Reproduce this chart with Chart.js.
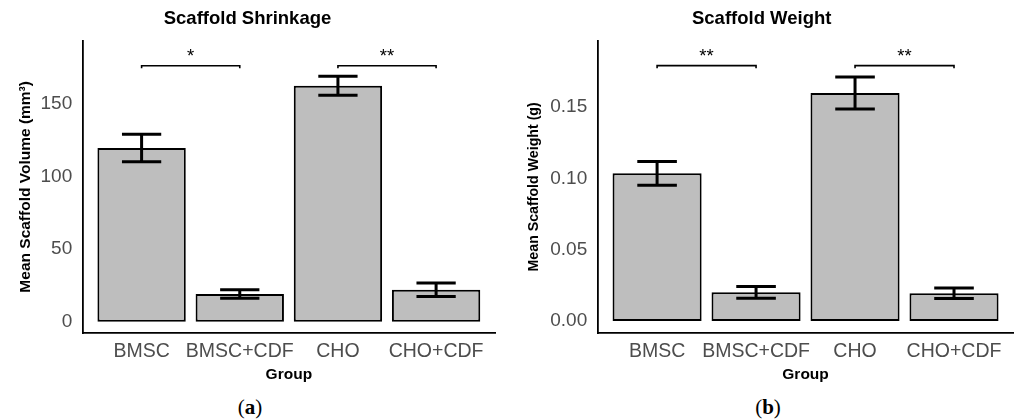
<!DOCTYPE html>
<html><head><meta charset="utf-8">
<script src="https://cdn.jsdelivr.net/npm/chart.js@4.4.1/dist/chart.umd.min.js"></script>
<style>
body{margin:0;background:#fff;width:1020px;height:419px;overflow:hidden;position:relative;font-family:'Liberation Sans',Arial,sans-serif}
.wrap{position:absolute;top:0;width:510px;height:390px}
.cap{position:absolute;top:395px;font-family:'Liberation Serif','Times New Roman',serif;font-size:21px;line-height:24px;color:#000;transform:translateX(-50%)}
</style></head><body>
<div class="wrap" style="left:0"><canvas id="cA" width="510" height="390"></canvas></div>
<div class="wrap" style="left:510px"><canvas id="cB" width="510" height="390"></canvas></div>
<div class="cap" style="left:250px">(<b>a</b>)</div>
<div class="cap" style="left:768px">(<b>b</b>)</div>
<script>
const groups = ['BMSC', 'BMSC+CDF', 'CHO', 'CHO+CDF'];
const volumeMean = [119.5, 19.1, 162.4, 22.0];
const volumeErr = [9.5, 2.9, 6.5, 4.6];
const weightMean = [0.1035, 0.0201, 0.1599, 0.0194];
const weightErr = [0.0083, 0.0041, 0.0112, 0.0037];
const volumeTicks = [0, 50, 100, 150];
const volumeTickLabels = ['0', '50', '100', '150'];
const weightTicks = [0, 0.05, 0.10, 0.15];
const weightTickLabels = ['0.00', '0.05', '0.10', '0.15'];
const volumeSig = [{from: 0, to: 1, y: 176.2, label: '*'}, {from: 2, to: 3, y: 176.2, label: '**'}];
const weightSig = [{from: 0, to: 1, y: 0.179, label: '**'}, {from: 2, to: 3, y: 0.179, label: '**'}];

const FONT = "'Liberation Sans', Arial, sans-serif";
Chart.defaults.font.family = FONT;

const annot = {
  id: 'annot',
  afterDatasetsDraw(chart, args, opts) {
    const {ctx, scales: {x, y}} = chart;
    ctx.save();
    ctx.strokeStyle = '#000';
    ctx.lineWidth = 3;
    opts.mean.forEach((m, i) => {
      const cx = x.getPixelForValue(i + 1);
      const hw = x.getPixelForValue(i + 1 + 0.2) - cx;
      const yt = y.getPixelForValue(m + opts.err[i]);
      const yb = y.getPixelForValue(m - opts.err[i]);
      ctx.beginPath();
      ctx.moveTo(cx, yt); ctx.lineTo(cx, yb);
      ctx.moveTo(cx - hw, yt); ctx.lineTo(cx + hw, yt);
      ctx.moveTo(cx - hw, yb); ctx.lineTo(cx + hw, yb);
      ctx.stroke();
    });
    ctx.lineWidth = 1.6;
    ctx.fillStyle = '#000';
    ctx.font = '18.5px ' + FONT;
    ctx.textAlign = 'center';
    ctx.textBaseline = 'alphabetic';
    opts.sig.forEach(s => {
      const x1 = x.getPixelForValue(s.from + 1);
      const x2 = x.getPixelForValue(s.to + 1);
      const yy = y.getPixelForValue(s.y);
      ctx.beginPath();
      ctx.moveTo(x1, yy + 2.5); ctx.lineTo(x1, yy); ctx.lineTo(x2, yy); ctx.lineTo(x2, yy + 2.5);
      ctx.stroke();
      ctx.fillText(s.label, (x1 + x2) / 2, yy - 3.5);
    });
    ctx.restore();
  }
};

function makeChart(id, cfg) {
  return new Chart(document.getElementById(id), {
    type: 'bar',
    data: {
      datasets: [{
        data: cfg.mean.map((v, i) => ({x: i + 1, y: v})),
        backgroundColor: '#bebebe',
        borderColor: '#000',
        borderWidth: 2,
        borderSkipped: false,
        categoryPercentage: 1,
        barPercentage: 0.9
      }]
    },
    options: {
      responsive: false,
      animation: false,
      devicePixelRatio: 1,
      layout: {padding: {left: 0, right: cfg.padRight, top: 0, bottom: 0}},
      plugins: {
        legend: {display: false},
        tooltip: {enabled: false},
        title: {display: true, text: cfg.title, color: '#000',
          font: {size: 18.5, weight: 'bold'}, padding: {top: 7.9, bottom: 10.6}},
        annot: {mean: cfg.mean, err: cfg.err, sig: cfg.sig}
      },
      scales: {
        x: {
          type: 'linear', min: 0.4, max: 4.6, offset: false,
          grid: {display: false, drawTicks: false},
          border: {display: true, color: '#000', width: 1.8},
          ticks: {padding: 6.5, color: '#4d4d4d', font: {size: 19.5}, autoSkip: false, maxRotation: 0,
            callback: (v, i) => groups[i]},
          afterBuildTicks: s => { s.ticks = groups.map((g, i) => ({value: i + 1})); },
          afterFit: s => { s.height = 57; },
          title: {display: true, text: 'Group', color: '#000', font: {size: 15.5, weight: 'bold'},
            padding: {top: 0, bottom: 6.4}}
        },
        y: {
          min: cfg.yMin, max: cfg.yMax,
          grid: {display: false, drawTicks: false},
          border: {display: true, color: '#000', width: 1.8},
          ticks: {padding: 10.5, color: '#4d4d4d', font: {size: 19}, autoSkip: false,
            callback: (v, i) => cfg.tickLabels[i]},
          afterBuildTicks: s => { s.ticks = cfg.ticks.map(v => ({value: v})); },
          afterFit: s => { s.width = cfg.yWidth; },
          title: {display: true, text: cfg.yTitle, color: '#000', font: {size: cfg.yTitleSize, weight: 'bold'},
            padding: {top: 16, bottom: 0}}
        }
      }
    },
    plugins: [annot]
  });
}

makeChart('cA', {
  mean: volumeMean, err: volumeErr, sig: volumeSig,
  title: 'Scaffold Shrinkage', yTitle: 'Mean Scaffold Volume (mm³)', yTitleSize: 15.5,
  yMin: -7.8, yMax: 193.4, ticks: volumeTicks, tickLabels: volumeTickLabels,
  yWidth: 82.7, padRight: 15
});
makeChart('cB', {
  mean: weightMean, err: weightErr, sig: weightSig,
  title: 'Scaffold Weight', yTitle: 'Mean Scaffold Weight (g)', yTitleSize: 14.2,
  yMin: -0.0084, yMax: 0.1965, ticks: weightTicks, tickLabels: weightTickLabels,
  yWidth: 87.7, padRight: 6.6
});
</script>
</body></html>
